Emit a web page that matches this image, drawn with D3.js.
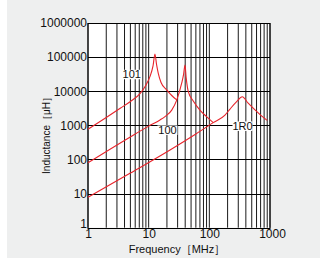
<!DOCTYPE html>
<html>
<head>
<meta charset="utf-8">
<script src="https://cdn.jsdelivr.net/npm/d3@7"></script>
<style>
  body { margin: 0; background: #fff; }
  svg { display: block; font-family: "Liberation Sans", Arial, sans-serif; }
</style>
</head>
<body>
<div id="chart"></div>
<script>
// frequency (MHz) / inductance (uH) points
const freq101 = [1, 2, 3.4, 5, 7.2, 9, 10.5, 11.8, 12.7, 13.5, 14.4, 16, 19.8, 24, 29];
const ind101  = [770, 1700, 3170, 5000, 8500, 15000, 26700, 55000, 124000, 60000, 33600, 18000, 11000, 7500, 5560];

const freq100 = [1, 4.6, 10, 15.4, 18.6, 24, 29, 35, 37.5, 39.7, 41.5, 45, 55, 70, 90, 116];
const ind100  = [80, 420, 950, 1440, 1800, 2800, 5500, 17200, 30000, 59000, 25000, 9800, 5000, 2800, 1800, 1200];

const freq1R0 = [1, 5, 22.5, 60, 116, 181, 219, 282, 349, 437, 566, 700, 900];
const ind1R0  = [7.8, 40, 190, 560, 1200, 2000, 3000, 4950, 6900, 4450, 2830, 2000, 1400];

const seriesNames = ["101", "100", "1R0"];
// where each part-number label sits (freq, inductance)
const labelFreq = [5.25, 20.4, 352];
const labelInd  = [24000, 560, 733];

const xTicks = [1, 10, 100, 1000];
const yTicks = [1, 10, 100, 1000, 10000, 100000, 1000000];

const W = 320, H = 265;
const margin = { top: 23, right: 50, bottom: 37.3, left: 88 };

const svg = d3.select("#chart")
  .append("svg")
    .attr("width", W)
    .attr("height", H);

// grey panel
svg.append("rect")
  .attr("x", 7).attr("y", 0)
  .attr("width", W - 7).attr("height", 258)
  .attr("fill", "#eeefef");

const x = d3.scaleLog()
  .domain([1, 1000])
  .range([margin.left, W - margin.right]);

const y = d3.scaleLog()
  .domain([1, 1000000])
  .range([H - margin.bottom, margin.top]);

// plot area
svg.append("rect")
  .attr("x", x(1)).attr("y", y(1e6))
  .attr("width", x(1000) - x(1))
  .attr("height", y(1) - y(1e6))
  .attr("fill", "#fff");

// vertical grid: 1..9 in every decade
const vGrid = [];
for (let d = 1; d < 1000; d *= 10) {
  for (let k = 1; k < 10; k++) vGrid.push(d * k);
}
vGrid.push(1000);

svg.append("g")
  .selectAll("line")
  .data(vGrid)
  .join("line")
    .attr("x1", d => x(d)).attr("x2", d => x(d))
    .attr("y1", y(1e6)).attr("y2", y(1))
    .attr("stroke", "#1a1a1a")
    .attr("stroke-width", 1);

// horizontal grid at decades
svg.append("g")
  .selectAll("line")
  .data(yTicks)
  .join("line")
    .attr("x1", x(1)).attr("x2", x(1000))
    .attr("y1", d => Math.round(y(d)) + 0.5)
    .attr("y2", d => Math.round(y(d)) + 0.5)
    .attr("stroke", "#000")
    .attr("stroke-width", 1);

// frame
svg.append("rect")
  .attr("x", x(1)).attr("y", Math.round(y(1e6)) + 0.5)
  .attr("width", x(1000) - x(1))
  .attr("height", Math.round(y(1)) - Math.round(y(1e6)))
  .attr("fill", "none")
  .attr("stroke", "#000");

// Y axis labels
const yAxis = svg.append("g")
  .attr("transform", `translate(${x(1) - 1},0)`)
  .call(d3.axisLeft(y).tickValues(yTicks).tickFormat(d3.format("d")).tickSize(0).tickPadding(0));
yAxis.select(".domain").remove();
yAxis.selectAll("text")
  .attr("fill", "#111")
  .style("font-size", "12px")
  .attr("dy", d => d === 1 ? "-0.05em" : "0.32em");

// X axis labels
const xAxis = svg.append("g")
  .attr("transform", `translate(0,${y(1)})`)
  .call(d3.axisBottom(x).tickValues(xTicks).tickFormat(d3.format("d")).tickSize(0).tickPadding(2));
xAxis.select(".domain").remove();
xAxis.selectAll("text")
  .attr("fill", "#111")
  .style("font-size", "12px")
  .attr("dx", d => d === 1000 ? "2px" : 0);

// axis titles
svg.append("text")
  .attr("x", 177)
  .attr("y", 253)
  .style("text-anchor", "middle")
  .style("font-size", "11px")
  .attr("fill", "#111")
  .text("Frequency［MHz］");

svg.append("text")
  .attr("transform", "translate(50,133) rotate(-90)")
  .style("text-anchor", "middle")
  .style("font-size", "10px")
  .attr("fill", "#111")
  .text("Inductance［μH］");

// curves
const series = [
  { name: seriesNames[0], f: freq101, l: ind101 },
  { name: seriesNames[1], f: freq100, l: ind100 },
  { name: seriesNames[2], f: freq1R0, l: ind1R0 }
];

const line = d3.line()
  .x(d => x(d[0]))
  .y(d => y(d[1]))
  .curve(d3.curveMonotoneX);

svg.append("g")
  .selectAll("path")
  .data(series)
  .join("path")
    .attr("d", s => line(s.f.map((f, i) => [f, s.l[i]])))
    .attr("fill", "none")
    .attr("stroke", "#e8242b")
    .attr("stroke-width", 1.1);

// curve labels with white box behind
const labels = seriesNames.map((name, i) => ({ name, f: labelFreq[i], l: labelInd[i] }));

const lab = svg.append("g")
  .selectAll("g")
  .data(labels)
  .join("g")
    .attr("transform", d => `translate(${x(d.f)},${y(d.l)})`);

lab.append("rect")
  .attr("x", -10).attr("y", -8.5)
  .attr("width", 20).attr("height", 9.5)
  .attr("fill", "#fff");

lab.append("text")
  .style("text-anchor", "middle")
  .style("font-size", "11px")
  .attr("fill", "#111")
  .text(d => d.name);
</script>
</body>
</html>
